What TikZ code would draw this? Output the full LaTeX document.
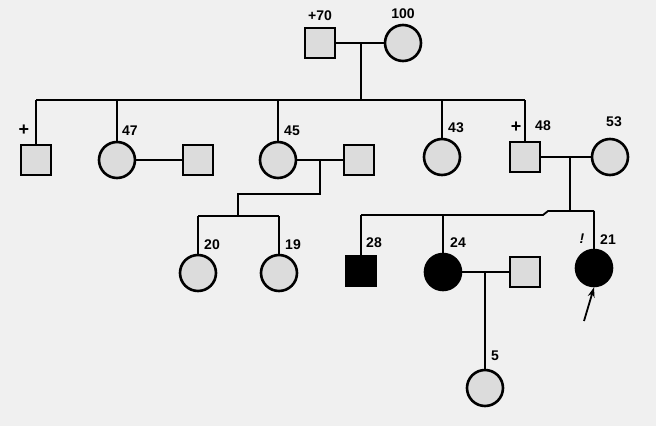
\documentclass[tikz,border=0pt]{standalone}
\usepackage{fontspec}
\setmainfont{Liberation Sans}
\usetikzlibrary{arrows.meta}
\definecolor{bg}{HTML}{F0F0F0}
\definecolor{sh}{HTML}{DCDCDC}
\begin{document}
\begin{tikzpicture}[x=1pt,y=-1pt,
  male/.style={draw, line width=2.6pt, fill=sh, minimum size=30pt, inner sep=0pt, rectangle},
  female/.style={draw, line width=2.6pt, fill=sh, minimum size=36pt, inner sep=0pt, circle},
  aff/.style={fill=black},
  lab/.style={font=\bfseries\fontsize{14}{14}\selectfont, inner sep=0pt},
  plus/.style={font=\bfseries\fontsize{18}{18}\selectfont, inner sep=0pt},
  ln/.style={line width=1.8pt}]
\fill[bg] (0,0) rectangle (656,426);
\useasboundingbox (0,0) rectangle (656,426);
% Generation I
\node[male] (g1m) at (320,43) {};
\node[female] (g1f) at (403,43) {};
\node[lab] at (320,16) {+70};
\node[lab] at (403,14) {100};
\coordinate (g1d) at (361,43);
\coordinate (g1s) at (361,100);
\draw[ln] (g1m) -- (g1f);
\draw[ln] (g1d) -- (g1s);
% sibship II
\coordinate (s2l) at (36,100);
\coordinate (s2r) at (525,100);
\draw[ln] (s2l) -- (s2r);
% Generation II
\node[male] (a) at (36,160) {};
\node[plus] at (24,130) {+};
\node[female] (b) at (117,160) {};
\node[lab] at (130,131) {47};
\node[male] (bs) at (198,160) {};
\node[female] (c) at (278,160) {};
\node[lab] at (292,131) {45};
\node[male] (cs) at (359,160) {};
\node[female] (d) at (442,157) {};
\node[lab] at (456,128) {43};
\node[male] (e) at (525,157) {};
\node[plus] at (516,127) {+};
\node[lab] at (543,126) {48};
\node[female] (es) at (610,157) {};
\node[lab] at (614,122) {53};
\draw[ln] (s2l) -- (a.north);
\draw[ln] (117,100) -- (b.north);
\draw[ln] (278,100) -- (c.north);
\draw[ln] (442,100) -- (d.north);
\draw[ln] (s2r) -- (e.north);
\draw[ln] (b) -- (bs);
\draw[ln] (c) -- (cs);
\draw[ln] (e) -- (es);
% children of 45
\coordinate (cd) at (320,160);
\draw[ln] (cd) -- (320,194) -- (238,194) -- (238,216);
\draw[ln] (198,216) -- (279,216);
\node[female] (f) at (198,273) {};
\node[lab] at (212,245) {20};
\node[female] (g) at (279,273) {};
\node[lab] at (293,245) {19};
\draw[ln] (198,216) -- (f.north);
\draw[ln] (279,216) -- (g.north);
% children of 48
\coordinate (ed) at (570,157);
\draw[ln] (ed) -- (570,211);
\draw[ln] (361,215) -- (543,215) -- (548,211) -- (594,211);
\node[male,aff] (h) at (361,271) {};
\node[lab] at (374,243) {28};
\node[female,aff] (i) at (443,272) {};
\node[lab] at (458,243) {24};
\node[male] (is) at (525,272) {};
\node[female,aff] (j) at (594,268) {};
\node[lab] at (582,239) {\itshape !};
\node[lab] at (608,240) {21};
\draw[ln] (361,215) -- (h.north);
\draw[ln] (443,215) -- (i.north);
\draw[ln] (594,211) -- (j.north);
\draw[ln] (i) -- (is);
\coordinate (arrT) at (584,321);
\draw[line width=1.8pt,-{Stealth[length=10pt,width=7pt]}] (arrT) -- (j.south);
% Generation IV
\node[female] (k) at (485,388) {};
\node[lab] at (495,356) {5};
\draw[ln] (485,272) -- (k.north);
\end{tikzpicture}
\end{document}
